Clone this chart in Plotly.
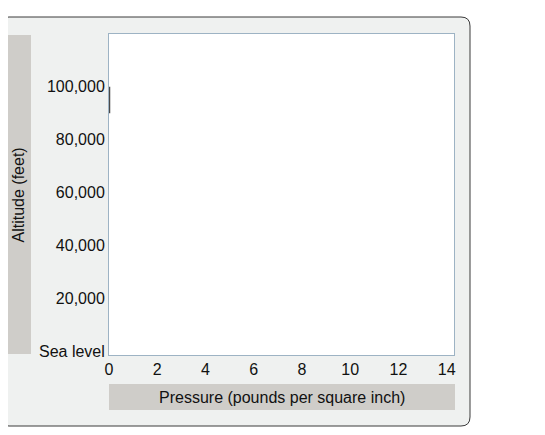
import plotly.graph_objects as go

# data
pressure_psi = [0.0, 0.0]
altitude_ft = [100000, 90000]

x_ticks = [0, 2, 4, 6, 8, 10, 12, 14]
y_ticks = [0, 20000, 40000, 60000, 80000, 100000]
y_tick_labels = ["Sea level", "20,000", "40,000", "60,000", "80,000", "100,000"]

W, H = 545, 435
OFF = 8  # page body margin
L, R, T, B = 109 - OFF, 454 - OFF, 34 - OFF, 355 - OFF  # plot area in pixels


def px(x):
    return (x - OFF - L) / (R - L)


def py(y):
    return (B - (y - OFF)) / (B - T)


def rounded(x0, y0, x1, y1, r):
    # rounded rect path in paper coords from pixel box
    a, b, c, d = px(x0), px(x1), py(y0), py(y1)
    rx = r / (R - L)
    ry = r / (B - T)
    return (f"M {a+rx},{c} L {b-rx},{c} Q {b},{c} {b},{c-ry} "
            f"L {b},{d+ry} Q {b},{d} {b-rx},{d} L {a+rx},{d} "
            f"Q {a},{d} {a},{d+ry} L {a},{c-ry} Q {a},{c} {a+rx},{c} Z")


fig = go.Figure()
fig.add_trace(go.Scatter(x=pressure_psi, y=altitude_ft, mode="lines",
                         line=dict(color="#4a4a4a", width=2.5),
                         cliponaxis=False, hoverinfo="skip"))

font = "Liberation Sans, Arial, Helvetica, sans-serif"

fig.update_layout(
    width=W, height=H, autosize=False,
    margin=dict(l=L, r=W - R, t=T, b=H - B),
    paper_bgcolor="white", plot_bgcolor="white",
    showlegend=False,
    font=dict(family=font, size=16, color="#111"),
    xaxis=dict(range=[0, 14.3], tickvals=x_ticks, showgrid=False, zeroline=False,
               showline=True, mirror=True, linecolor="#9db3c4", linewidth=1,
               ticks="", fixedrange=True, tickfont=dict(size=16)),
    yaxis=dict(range=[-1500, 120000], tickvals=y_ticks, ticktext=y_tick_labels,
               showgrid=False, zeroline=False, showline=True, mirror=True,
               linecolor="#9db3c4", linewidth=1, ticks="", fixedrange=True,
               tickfont=dict(size=16)),
    shapes=[
        dict(type="path", xref="paper", yref="paper", layer="below",
             path=rounded(0, 17, 470, 426, 9),
             fillcolor="#eff1f0", line=dict(color="#3a3a3a", width=1)),
        dict(type="rect", xref="paper", yref="paper", layer="below",
             x0=0, x1=1, y0=0, y1=1,
             fillcolor="white", line=dict(width=0)),
        dict(type="rect", xref="paper", yref="paper", layer="below",
             x0=px(6), x1=px(31), y0=py(354), y1=py(35),
             fillcolor="#cfcdc9", line=dict(width=0)),
        dict(type="rect", xref="paper", yref="paper", layer="below",
             x0=px(109), x1=px(455), y0=py(410), y1=py(384),
             fillcolor="#cfcdc9", line=dict(width=0)),
    ],
    annotations=[
        dict(text="Altitude (feet)", xref="paper", yref="paper",
             x=px(18.5), y=py(195), xanchor="center", yanchor="middle",
             textangle=-90, showarrow=False, font=dict(size=16)),
        dict(text="Pressure (pounds per square inch)", xref="paper", yref="paper",
             x=px(282), y=py(397), xanchor="center", yanchor="middle",
             showarrow=False, font=dict(size=16)),
    ],
)

fig.write_html("out.html")
